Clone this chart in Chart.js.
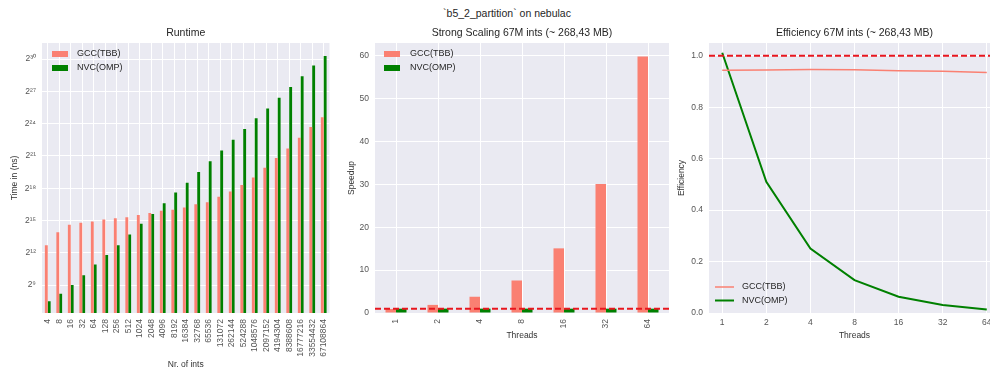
<!DOCTYPE html>
<html>
<head>
<meta charset="utf-8">
<script src="https://cdn.jsdelivr.net/npm/chart.js@4.4.1/dist/chart.umd.min.js"></script>
<style>
  html, body { margin: 0; padding: 0; background: #fff; overflow: hidden; }
  body { width: 990px; height: 374px; position: relative; font-family: "Liberation Sans", Arial, sans-serif; }
  canvas { position: absolute; top: 0; }
  #suptitle { position: absolute; left: 357px; width: 300px; top: 7px; text-align: center; font-size: 10.5px; color: #262626; }
</style>
</head>
<body>
<div id="suptitle">`b5_2_partition` on nebulac</div>
<canvas id="runtime" width="340" height="374" style="left:0"></canvas>
<canvas id="speedup" width="335" height="374" style="left:340px"></canvas>
<canvas id="efficiency" width="325" height="374" style="left:675px"></canvas>
<script>
// problem sizes (number of ints)
const sizes = ['4', '8', '16', '32', '64', '128', '256', '512', '1024', '2048', '4096', '8192',
  '16384', '32768', '65536', '131072', '262144', '524288', '1048576', '2097152', '4194304',
  '8388608', '16777216', '33554432', '67108864'];

// runtime in ns
const gccTime = [6654, 15287, 24834, 28526, 30574, 35120, 37641, 40342, 46341, 53232, 61147, 65536,
  75281, 92682, 106464, 150562, 212927, 322725, 524288, 978321, 1825677, 3406823, 6813646,
  13627293, 25429325];
const nvcTime = [181, 294, 512, 955, 1911, 3566, 6654, 13308, 26616, 49667, 99334, 198668,
  370728, 741455, 1482910, 2965821, 5931642, 11863283, 23726566, 44274752, 88549504,
  177099008, 354198016, 708396032, 1321913000];

// strong scaling, 67M ints
const threads = [1, 2, 4, 8, 16, 32, 64];
const gccSpeedup = [0.945, 1.89, 3.79, 7.58, 15.07, 30.1, 59.8];
const nvcSpeedup = [1.01, 1.02, 1.02, 1.02, 1.01, 1.01, 1.01];
const gccEff = [0.944, 0.945, 0.947, 0.946, 0.942, 0.94, 0.935];
const nvcEff = [1.012, 0.51, 0.251, 0.128, 0.063, 0.031, 0.014];

const runtimeTicks = [9, 12, 15, 18, 21, 24, 27, 30];

const GCC = 'salmon';
const NVC = 'green';
const FONT = '"Liberation Sans", Arial, sans-serif';
Chart.defaults.font.family = FONT;
Chart.defaults.color = '#555';

const tickFont = { size: 8.5 };
const axisFont = { size: 8.5 };
const SUP = { '0': '⁰', '1': '¹', '2': '²', '3': '³', '4': '⁴', '5': '⁵', '6': '⁶', '7': '⁷', '8': '⁸', '9': '⁹' };
const pow2 = e => '2' + String(e).split('').map(c => SUP[c]).join('');

// grey plot background like seaborn darkgrid
const plotBg = {
  id: 'plotBg',
  beforeDraw(chart) {
    const { ctx, chartArea: a } = chart;
    ctx.save();
    ctx.fillStyle = '#eaeaf2';
    ctx.fillRect(a.left, a.top, a.width, a.height);
    ctx.restore();
  }
};

const panelTitle = {
  id: 'panelTitle',
  afterDraw(chart, args, opts) {
    const { ctx, chartArea: a } = chart;
    ctx.save();
    ctx.font = '10.5px ' + FONT;
    ctx.fillStyle = '#262626';
    ctx.textAlign = 'center';
    ctx.textBaseline = 'middle';
    ctx.fillText(opts.text, (a.left + a.right) / 2, a.top - 9.5);
    ctx.restore();
  }
};

// dashed reference line (ideal value)
const refLine = {
  id: 'refLine',
  afterDatasetsDraw(chart, args, opts) {
    if (opts.value === undefined) return;
    const { ctx, chartArea: a } = chart;
    const y = chart.scales.y.getPixelForValue(opts.value);
    ctx.save();
    ctx.strokeStyle = '#e8161e';
    ctx.lineWidth = 2;
    ctx.setLineDash([6, 3]);
    ctx.beginPath();
    ctx.moveTo(a.left, y);
    ctx.lineTo(a.right, y);
    ctx.stroke();
    ctx.restore();
  }
};

// legend drawn inside the plot area
const innerLegend = {
  id: 'innerLegend',
  afterDraw(chart, args, opts) {
    const { ctx, chartArea: a } = chart;
    ctx.save();
    ctx.font = '9px ' + FONT;
    ctx.textBaseline = 'middle';
    chart.data.datasets.forEach((ds, i) => {
      const y = (opts.fromBottom ? a.bottom - opts.y : a.top + opts.y) + i * opts.gap;
      const c = ds.borderColor || ds.backgroundColor;
      if (opts.marker === 'line') {
        ctx.strokeStyle = c;
        ctx.lineWidth = ds.borderWidth || 1.5;
        ctx.beginPath();
        ctx.moveTo(a.left + opts.x, y);
        ctx.lineTo(a.left + opts.x + 19, y);
        ctx.stroke();
      } else {
        ctx.fillStyle = ds.backgroundColor;
        ctx.fillRect(a.left + opts.x, y - 3, 16, 6);
      }
      ctx.fillStyle = '#262626';
      ctx.fillText(ds.label, a.left + opts.textX, y);
    });
    ctx.restore();
  }
};

const gridOpts = { color: '#ffffff', lineWidth: 1, drawTicks: false, offset: false };

new Chart(document.getElementById('runtime'), {
  type: 'bar',
  data: {
    labels: sizes,
    datasets: [
      { label: 'GCC(TBB)', data: gccTime, backgroundColor: GCC },
      { label: 'NVC(OMP)', data: nvcTime, backgroundColor: NVC }
    ]
  },
  plugins: [plotBg, panelTitle, innerLegend],
  options: {
    responsive: false,
    animation: false,
    layout: { padding: { top: 43, right: 4, bottom: 0, left: 0 }, autoPadding: false },
    datasets: { bar: { categoryPercentage: 0.5, barPercentage: 1.0 } },
    scales: {
      x: {
        offset: true,
        grid: gridOpts,
        border: { display: false },
        ticks: { font: tickFont, minRotation: 90, maxRotation: 90, padding: 6, autoSkip: false },
        title: { display: true, text: 'Nr. of ints', color: '#333', font: axisFont, padding: { top: 0, bottom: 4 } },
        afterFit: s => { s.height = 61; }
      },
      y: {
        type: 'logarithmic',
        min: 2 ** 6.4,
        max: 2 ** 31.5,
        grid: gridOpts,
        border: { display: false },
        afterBuildTicks: s => { s.ticks = runtimeTicks.map(e => ({ value: 2 ** e })); },
        ticks: { font: tickFont, padding: 6, callback: v => pow2(Math.round(Math.log2(v))) },
        title: { display: true, text: 'Time in (ns)', color: '#333', font: axisFont, padding: { top: 10, bottom: 0 } },
        afterFit: s => { s.width = 42; }
      }
    },
    plugins: {
      legend: { display: false },
      tooltip: { enabled: false },
      panelTitle: { text: 'Runtime' },
      innerLegend: { x: 10, textX: 35, y: 11, gap: 14 }
    }
  }
});

new Chart(document.getElementById('speedup'), {
  type: 'bar',
  data: {
    labels: threads.map(String),
    datasets: [
      { label: 'GCC(TBB)', data: gccSpeedup, backgroundColor: GCC },
      { label: 'NVC(OMP)', data: nvcSpeedup, backgroundColor: NVC }
    ]
  },
  plugins: [plotBg, panelTitle, refLine, innerLegend],
  options: {
    responsive: false,
    animation: false,
    layout: { padding: { top: 43, right: 6, bottom: 33, left: 0 }, autoPadding: false },
    datasets: { bar: { categoryPercentage: 0.5, barPercentage: 1.0 } },
    scales: {
      x: {
        offset: true,
        grid: gridOpts,
        border: { display: false },
        ticks: { font: tickFont, minRotation: 90, maxRotation: 90, padding: 6 },
        title: { display: true, text: 'Threads', color: '#333', font: axisFont, padding: { top: 0, bottom: 0 } },
        afterFit: s => { s.height = 28; }
      },
      y: {
        min: 0,
        max: 62.95,
        grid: gridOpts,
        border: { display: false },
        afterBuildTicks: s => { s.ticks = [0, 10, 20, 30, 40, 50, 60].map(v => ({ value: v })); },
        ticks: { font: tickFont, padding: 6 },
        title: { display: true, text: 'Speedup', color: '#333', font: axisFont, padding: { top: 7, bottom: 0 } },
        afterFit: s => { s.width = 35; }
      }
    },
    plugins: {
      legend: { display: false },
      tooltip: { enabled: false },
      panelTitle: { text: 'Strong Scaling 67M ints (~ 268,43 MB)' },
      refLine: { value: 1 },
      innerLegend: { x: 9, textX: 35, y: 11, gap: 14 }
    }
  }
});

new Chart(document.getElementById('efficiency'), {
  type: 'line',
  data: {
    datasets: [
      { label: 'GCC(TBB)', data: threads.map((t, i) => ({ x: t, y: gccEff[i] })), borderColor: GCC, borderWidth: 1.5, pointRadius: 0 },
      { label: 'NVC(OMP)', data: threads.map((t, i) => ({ x: t, y: nvcEff[i] })), borderColor: NVC, borderWidth: 2, pointRadius: 0 }
    ]
  },
  plugins: [plotBg, panelTitle, refLine, innerLegend],
  options: {
    responsive: false,
    animation: false,
    layout: { padding: { top: 43, right: 0, bottom: 33, left: 0 }, autoPadding: false },
    scales: {
      x: {
        type: 'logarithmic',
        min: 2 ** -0.3,
        max: 2 ** 6.3,
        grid: gridOpts,
        border: { display: false },
        afterBuildTicks: s => { s.ticks = threads.map(v => ({ value: v })); },
        ticks: { font: tickFont, padding: 5, maxRotation: 0, callback: v => String(v) },
        title: { display: true, text: 'Threads', color: '#333', font: axisFont, padding: { top: 0, bottom: 0 } },
        afterFit: s => { s.height = 28; }
      },
      y: {
        min: 0,
        max: 1.05,
        grid: gridOpts,
        border: { display: false },
        afterBuildTicks: s => { s.ticks = [0, 0.2, 0.4, 0.6, 0.8, 1.0].map(v => ({ value: v })); },
        ticks: { font: tickFont, padding: 6, callback: v => v.toFixed(1) },
        title: { display: true, text: 'Efficiency', color: '#333', font: axisFont, padding: { top: 2, bottom: 0 } },
        afterFit: s => { s.width = 34; }
      }
    },
    plugins: {
      legend: { display: false },
      tooltip: { enabled: false },
      panelTitle: { text: 'Efficiency 67M ints (~ 268,43 MB)' },
      refLine: { value: 1 },
      innerLegend: { marker: 'line', fromBottom: true, x: 6, textX: 33, y: 26, gap: 13.5 }
    }
  }
});
</script>
</body>
</html>
